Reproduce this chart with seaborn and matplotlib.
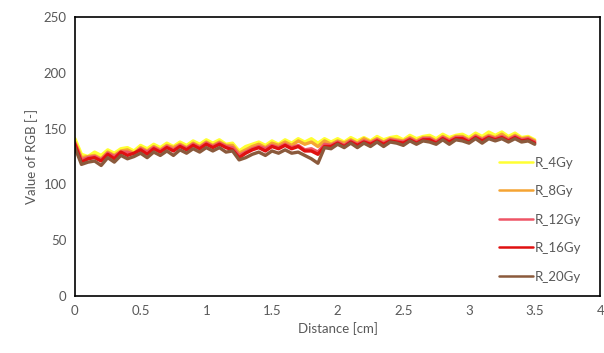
#%% IMPORTS
import numpy as np
import pandas as pd
import seaborn as sns
from matplotlib import pyplot as plt

#%% DATA (one value every 0.05 cm)
distance = [round(0.05 * i, 2) for i in range(71)]

r_4gy = [141, 127, 125, 129, 126, 131, 128, 132, 133, 130,
         135, 132, 136, 133, 137, 134, 138, 135, 139, 136,
         140, 137, 140, 136, 137, 130, 134, 136, 138, 135,
         139, 136, 140, 137, 141, 138, 141, 137, 141, 138,
         141, 138, 142, 139, 142, 139, 143, 140, 142, 143,
         140, 144, 141, 143, 144, 141, 145, 142, 144, 145,
         142, 146, 143, 147, 144, 147, 143, 146, 142, 143,
         140]
r_8gy = [138, 124, 125, 126, 123, 129, 126, 130, 131, 128,
         133, 130, 134, 131, 135, 133, 136, 133, 137, 134,
         138, 135, 138, 135, 135, 128, 131, 134, 136, 133,
         137, 135, 138, 135, 139, 136, 138, 134, 139, 136,
         139, 137, 140, 137, 141, 138, 141, 138, 141, 140,
         139, 142, 139, 142, 142, 139, 143, 140, 143, 143,
         140, 144, 141, 144, 142, 145, 141, 144, 141, 142,
         139]
r_12gy = [137, 122, 124, 125, 122, 128, 125, 129, 129, 127,
          132, 129, 133, 130, 134, 131, 135, 132, 136, 133,
          137, 134, 137, 134, 133, 126, 129, 132, 134, 132,
          135, 133, 136, 133, 135, 131, 132, 129, 136, 135,
          138, 135, 139, 136, 139, 137, 140, 137, 140, 139,
          138, 141, 138, 141, 141, 138, 142, 139, 142, 142,
          139, 143, 140, 143, 141, 143, 140, 143, 140, 141,
          138]
r_16gy = [136, 120, 123, 124, 121, 127, 123, 129, 126, 128,
          131, 127, 132, 129, 133, 130, 134, 131, 135, 132,
          136, 133, 136, 133, 131, 124, 128, 131, 133, 130,
          134, 132, 135, 132, 134, 130, 130, 127, 134, 134,
          137, 134, 138, 135, 138, 136, 139, 136, 139, 138,
          137, 140, 137, 140, 140, 137, 141, 138, 141, 141,
          138, 142, 139, 142, 140, 142, 139, 142, 139, 140,
          137]
r_20gy = [133, 118, 120, 121, 117, 124, 120, 126, 123, 125,
          128, 124, 129, 126, 130, 126, 131, 128, 132, 129,
          133, 130, 133, 129, 130, 122, 124, 127, 129, 126,
          130, 128, 131, 128, 129, 126, 123, 119, 133, 132,
          136, 133, 137, 133, 137, 134, 138, 134, 138, 137,
          135, 139, 136, 139, 138, 136, 140, 136, 140, 139,
          137, 141, 137, 141, 139, 141, 138, 141, 138, 139,
          136]

series_names = ['R_4Gy', 'R_8Gy', 'R_12Gy', 'R_16Gy', 'R_20Gy']
series_colors = ['#ffff33', '#f5a433', '#ee5566', '#e01010', '#8b5a3c']

x_ticks = [0, 0.5, 1, 1.5, 2, 2.5, 3, 3.5, 4]
y_ticks = [0, 50, 100, 150, 200, 250]

#%% PLOT
df = pd.DataFrame({
    'Distance': distance * 5,
    'Value': r_4gy + r_8gy + r_12gy + r_16gy + r_20gy,
    'Series': np.repeat(series_names, len(distance)),
})

sns.set_style('white')
plt.rcParams['font.family'] = ['Lato', 'DejaVu Sans']
text_color = '#595959'

fig = plt.figure(figsize=(6.04, 3.53), dpi=100)
ax = fig.add_axes([0.124, 0.161, 0.870, 0.791])

sns.lineplot(data=df, x='Distance', y='Value', hue='Series',
             palette=dict(zip(series_names, series_colors)),
             linewidth=2.4, ax=ax)

ax.set_xlim(0, 4)
ax.set_ylim(0, 250)
ax.set_xticks(x_ticks)
ax.set_xticklabels([f'{t:g}' for t in x_ticks])
ax.set_yticks(y_ticks)
ax.tick_params(direction='in', length=4, width=1, colors='black',
               labelcolor=text_color, labelsize=9.5, pad=6)
for spine in ax.spines.values():
    spine.set_color('black')
    spine.set_linewidth(1.2)

ax.set_xlabel('Distance [cm]', color=text_color, fontsize=9.5)
ax.set_ylabel('Value of RGB [-]', color=text_color, fontsize=9.5)

leg = ax.legend(loc='upper left', bbox_to_anchor=(0.815, 0.575),
                bbox_transform=fig.transFigure, frameon=False,
                fontsize=9.5, handlelength=2.6, handletextpad=0.1,
                labelspacing=1.25, borderpad=0)
for t in leg.get_texts():
    t.set_color(text_color)
for h in leg.get_lines():
    h.set_linewidth(1.8)

fig.savefig('out.png', dpi=100)
